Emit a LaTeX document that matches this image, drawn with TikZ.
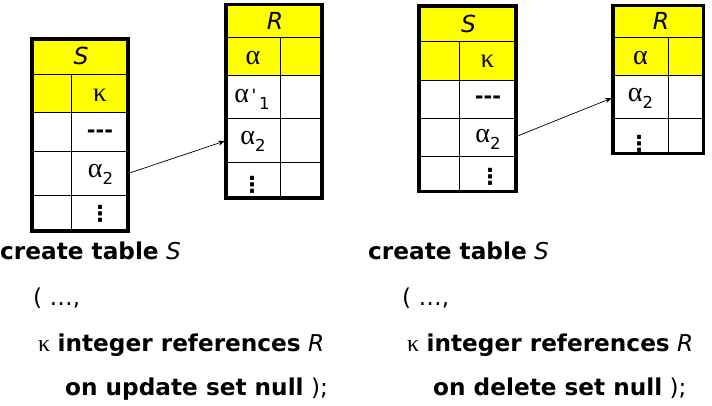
\documentclass[tikz,border=0pt]{standalone}
\usepackage{fontspec}
\setmainfont{DejaVu Sans}
\newfontfamily\grk{Liberation Serif}
\newfontfamily\monof{DejaVu Sans Mono}
\usetikzlibrary{arrows.meta}
\definecolor{hdr}{RGB}{255,255,0}
\newcommand\subtxt[1]{\raisebox{-7pt}{\fontsize{16.5}{16.5}\selectfont #1}}
\newcommand\agr{{\grk\fontsize{28}{28}\selectfont α}}
\newcommand\kgr{{\grk\fontsize{27}{27}\selectfont κ}}
\newcommand\dashes{{\fontsize{21}{21}\selectfont\bfseries\mbox{-}\mbox{-}\mbox{-}}}
\newcommand\vdts{{\fontsize{22}{22}\selectfont\bfseries ⋮}}
\newcommand\primetick{\raisebox{8.2pt}{\monof\fontsize{17}{17}\selectfont '}}
\tikzset{
  frame/.style={line width=3.2pt},
  gridl/.style={line width=0.9pt},
  cell/.style={inner sep=0pt, anchor=base},
  dotcell/.style={inner sep=0pt, anchor=center},
  ttl/.style={cell, font=\fontsize{23.5}{23.5}\selectfont\itshape},
  code/.style={inner sep=0pt, anchor=base west, font=\fontsize{23.2}{23.2}\selectfont},
  link/.style={line width=0.7pt, -{Stealth[length=7pt,width=5pt]}}
}
\begin{document}
\begin{tikzpicture}[x=1pt,y=-1pt]
\useasboundingbox (0,0) rectangle (712,406);
% ---------- left S ----------
\fill[hdr] (32,39) rectangle (128,112);
\draw[gridl] (32,74) -- (128,74) (32,112) -- (128,112) (32,151.7) -- (128,151.7) (32,195.7) -- (128,195.7);
\draw[gridl] (71.7,74) -- (71.7,231);
\draw[frame] (32,39) rectangle (128,231);
\node[ttl] (ls) at (81,65) {S};
\node[cell] (lsk) at (100,102) {\kgr};
\node[cell] (lsd) at (100,138) {\dashes};
\node[cell] (lsa) at (100.5,178) {\agr\subtxt{2}};
\node[dotcell] (lsv) at (100,214) {\vdts};
% ---------- left R ----------
\fill[hdr] (226,4.7) rectangle (322,75);
\draw[gridl] (226,37.3) -- (322,37.3) (226,75) -- (322,75) (226,118.3) -- (322,118.3) (226,162.7) -- (322,162.7);
\draw[gridl] (280.3,37.3) -- (280.3,198);
\draw[frame] (226,4.7) rectangle (322,198);
\node[ttl] (lr) at (275,30) {R};
\node[cell] (lra) at (253,65) {\agr};
\node[cell] (lra1) at (252,103) {\agr\subtxt{\primetick1}};
\node[cell] (lra2) at (253,145) {\agr\subtxt{2}};
\node[dotcell] (lrv) at (252,185) {\vdts};
% ---------- right S ----------
\fill[hdr] (419,6) rectangle (516,80);
\draw[gridl] (419,41) -- (516,41) (419,80) -- (516,80) (419,118.3) -- (516,118.3) (419,156) -- (516,156);
\draw[gridl] (459.3,41) -- (459.3,191.5);
\draw[frame] (419,6) rectangle (516,191.5);
\node[ttl] (rs) at (468.5,33) {S};
\node[cell] (rsk) at (487.5,68) {\kgr};
\node[cell] (rsd) at (488,104) {\dashes};
\node[cell] (rsa) at (488,143) {\agr\subtxt{2}};
\node[dotcell] (rsv) at (490,176.5) {\vdts};
% ---------- right R ----------
\fill[hdr] (613,5.3) rectangle (703.7,75);
\draw[gridl] (613,37.3) -- (703.7,37.3) (613,75) -- (703.7,75) (613,118.3) -- (703.7,118.3);
\draw[gridl] (668.3,37.3) -- (668.3,153.7);
\draw[frame] (613,5.3) rectangle (703.7,153.7);
\node[ttl] (rr) at (661,30) {R};
\node[cell] (rra) at (640.5,65) {\agr};
\node[cell] (rra2) at (640.5,102) {\agr\subtxt{2}};
\node[dotcell] (rrv) at (639,143.5) {\vdts};
% ---------- arrows ----------
\coordinate (la) at (129.5,173);
\coordinate (lb) at (225,141);
\coordinate (ra) at (517.5,136);
\coordinate (rb) at (612,98);
\draw[link] (la) -- (lb);
\draw[link] (ra) -- (rb);
% ---------- code ----------
\node[code] (l1) at (0,259) {\textbf{create table} \textit{S}};
\node[code] (l2) at (33,305) {( …,};
\node[code] (l3) at (38,351) {{\grk\fontsize{24}{24}\selectfont κ} \textbf{integer references} \textit{R}};
\node[code] (l4) at (65,395) {\textbf{on update set null} );};
\node[code] (r1) at (368,259) {\textbf{create table} \textit{S}};
\node[code] (r2) at (402,305) {( …,};
\node[code] (r3) at (407,351) {{\grk\fontsize{24}{24}\selectfont κ} \textbf{integer references} \textit{R}};
\node[code] (r4) at (433,395) {\textbf{on delete set null} );};
\end{tikzpicture}
\end{document}
